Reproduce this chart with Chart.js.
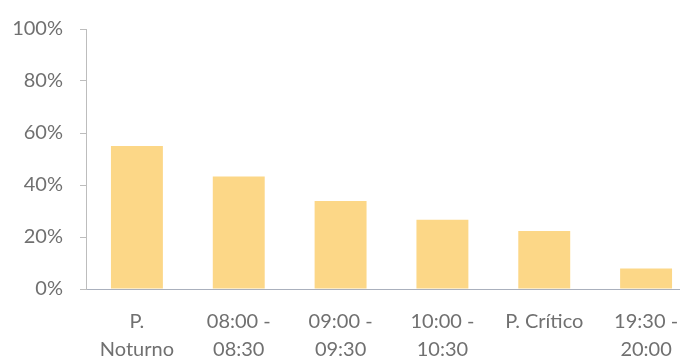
<!DOCTYPE html>
<html>
<head>
<meta charset="utf-8">
<script src="https://cdn.jsdelivr.net/npm/chart.js@4"></script>
<style>
  html, body { margin: 0; padding: 0; background: #fff; overflow: hidden; }
  .wrap { position: relative; width: 697px; height: 359px; }
</style>
</head>
<body>
<div class="wrap"><canvas class="barchart"></canvas></div>
<script>
const categories = [
  ['P.', 'Noturno'],
  ['08:00 -', '08:30'],
  ['09:00 -', '09:30'],
  ['10:00 -', '10:30'],
  'P. Crítico',
  ['19:30 -', '20:00'],
];
const shares = [55, 43.3, 33.8, 26.6, 22.3, 7.9];
const yTicks = [0, 20, 40, 60, 80, 100];

const ctx = document.querySelector('.barchart').getContext('2d');

const barchart = new Chart(ctx, {
  type: 'bar',
  data: {
    labels: categories,
    datasets: [
      {
        data: shares,
        backgroundColor: 'rgb(252, 215, 135)',
        borderWidth: 0,
        categoryPercentage: 1,
        barPercentage: 0.51,
      },
    ],
  },
  options: {
    responsive: true,
    maintainAspectRatio: false,
    animation: false,
    layout: { padding: { top: 23, left: 0, right: 0, bottom: 0 } },
    plugins: {
      legend: { display: false },
      tooltip: { enabled: false },
    },
    scales: {
      x: {
        grid: { display: false },
        border: { display: true, color: '#aab0bd', width: 1 },
        ticks: {
          color: '#707070',
          font: { family: 'Lato', size: 20, lineHeight: 1.4 },
          padding: 11,
          maxRotation: 0,
          autoSkip: false,
        },
        afterFit: (scale) => { scale.height = 70; },
      },
      y: {
        min: 0,
        max: 100,
        afterBuildTicks: (scale) => {
          scale.ticks = yTicks.map((v) => ({ value: v }));
        },
        grid: {
          drawOnChartArea: false,
          drawTicks: true,
          tickLength: 6,
          color: '#bdbdbd',
        },
        border: { display: true, color: '#bdbdbd', width: 1 },
        ticks: {
          color: '#707070',
          font: { family: 'Lato', size: 20 },
          padding: 17,
          callback: (v) => v + '%',
        },
        afterFit: (scale) => { scale.width = 86; },
      },
    },
  },
});
</script>
</body>
</html>
